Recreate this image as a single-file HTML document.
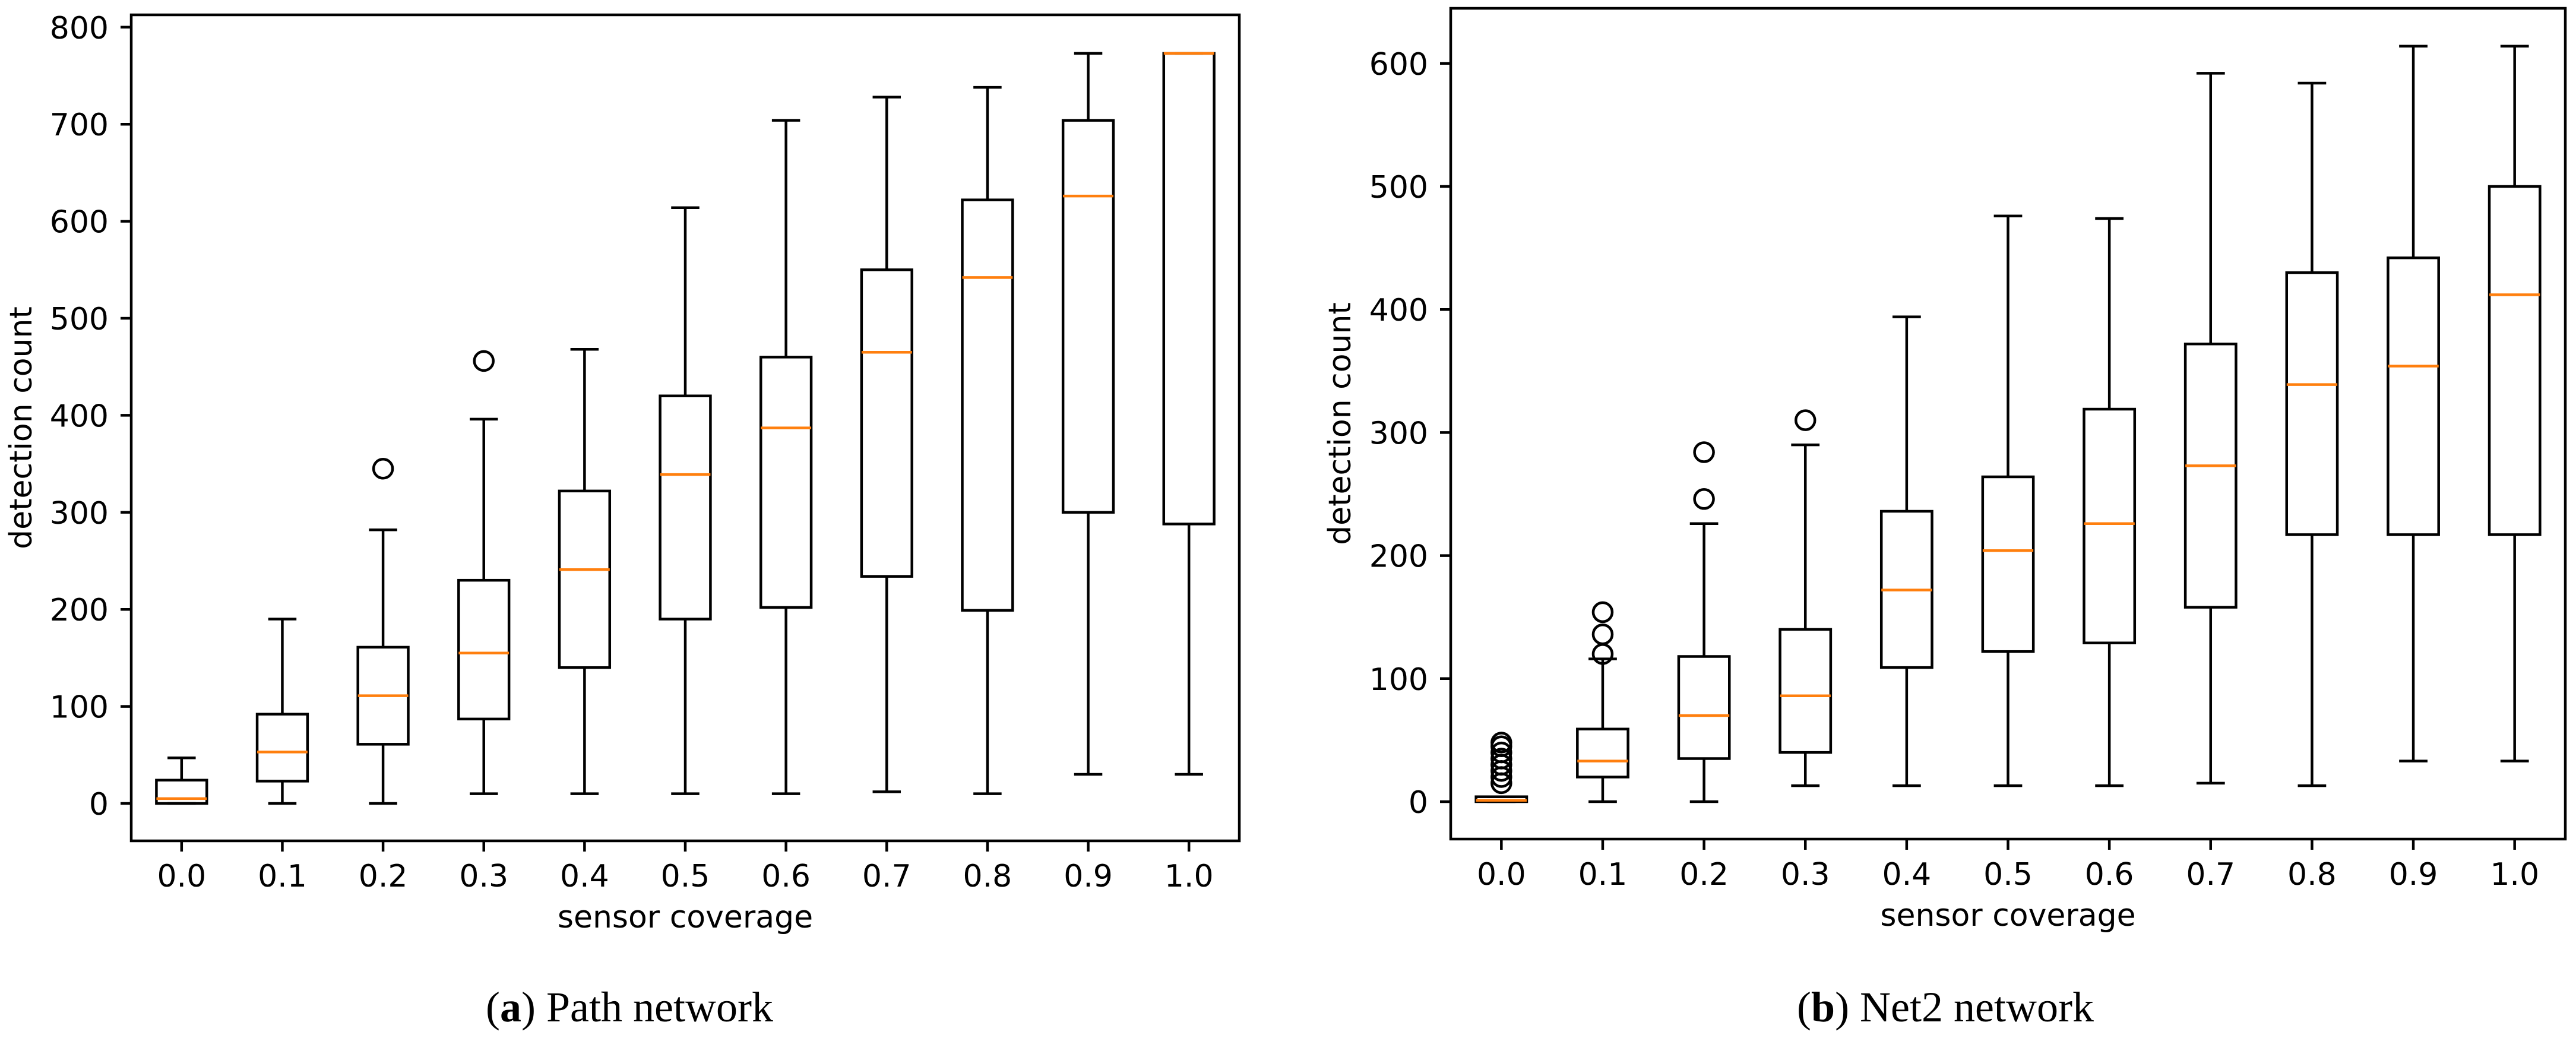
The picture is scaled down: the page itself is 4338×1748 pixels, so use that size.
<!DOCTYPE html>
<html><head><meta charset="utf-8"><style>
html,body{margin:0;padding:0;background:#fff;}
svg{display:block;}
</style></head><body>
<svg id="fig" width="4338" height="1748" viewBox="0 0 4338 1748" xmlns="http://www.w3.org/2000/svg">
<rect width="4338" height="1748" fill="#fff"/>
<g id="pa"></g>
<g id="pb"></g>
<text x="1060" y="1720" text-anchor="middle" font-family="Liberation Serif, serif" font-size="72">(<tspan font-weight="bold">a</tspan>) Path network</text>
<text x="3276" y="1720" text-anchor="middle" font-family="Liberation Serif, serif" font-size="72">(<tspan font-weight="bold">b</tspan>) Net2 network</text>
</svg>
<script>
const categories = ["0.0","0.1","0.2","0.3","0.4","0.5","0.6","0.7","0.8","0.9","1.0"];
// Path network: [whiskerLow, q1, median, q3, whiskerHigh]
const pathLow  = [0,0,0,10,10,10,10,12,10,30,30];
const pathQ1   = [0,23,61,87,140,190,202,234,199,300,288];
const pathMed  = [5,53,111,155,241,339,387,465,542,626,773];
const pathQ3   = [24,92,161,230,322,420,460,550,622,704,773];
const pathHigh = [47,190,282,396,468,614,704,728,738,773,773];
const pathOutliers = [[],[],[345],[456],[],[],[],[],[],[],[]];
const pathTicks = [0,100,200,300,400,500,600,700,800];
// Net2 network
const netLow  = [0,0,0,13,13,13,13,15,13,33,33];
const netQ1   = [0,20,35,40,109,122,129,158,217,217,217];
const netMed  = [1,33,70,86,172,204,226,273,339,354,412];
const netQ3   = [4,59,118,140,236,264,319,372,430,442,500];
const netHigh = [4,116,226,290,394,476,474,592,584,614,614];
const netOutliers = [[15,20,25,30,35,40,45,48],[120,136,154],[246,284],[310],[],[],[],[],[],[],[]];
const netTicks = [0,100,200,300,400,500,600];

const NS="http://www.w3.org/2000/svg";
function mk(parent,tag,attrs){const e=document.createElementNS(NS,tag);for(const k in attrs)e.setAttribute(k,attrs[k]);parent.appendChild(e);return e;}
const FONT="DejaVu Sans, Liberation Sans, sans-serif";

function drawChart(g,cfg,low,q1,med,q3,high,outl,ticks){
  const L=cfg.L,R=cfg.R,T=cfg.T,B=cfg.B;
  const step=(R-L)/11;
  const xs=i=>L+step*(i+0.5);
  const ys=v=>cfg.y0-v*cfg.k;
  // y ticks
  ticks.forEach(t=>{
    const tl=mk(g,'line',{x1:L-18,x2:L,y1:ys(t),y2:ys(t),stroke:'#000','stroke-width':4.5});
    
    
    const tx=mk(g,'text',{x:L-38,y:ys(t)+19,'text-anchor':'end','font-family':FONT,'font-size':52});
    tx.textContent=t;
    
    
  });
  categories.forEach((c,i)=>{
    const x=xs(i);
    const tl=mk(g,'line',{x1:x,x2:x,y1:B,y2:B+18,stroke:'#000','stroke-width':4.5});
    
    
    const tx=mk(g,'text',{x:x,y:B+77,'text-anchor':'middle','font-family':FONT,'font-size':52});
    tx.textContent=c;
    
    
    const bw=step*0.5, cw=step*0.28;
    const grp=mk(g,'g',{});
    
    
    mk(grp,'line',{x1:x,x2:x,y1:ys(low[i]),y2:ys(q1[i]),stroke:'#000','stroke-width':4.5});
    mk(grp,'line',{x1:x,x2:x,y1:ys(q3[i]),y2:ys(high[i]),stroke:'#000','stroke-width':4.5});
    mk(grp,'line',{x1:x-cw/2,x2:x+cw/2,y1:ys(low[i]),y2:ys(low[i]),stroke:'#000','stroke-width':4.5});
    mk(grp,'line',{x1:x-cw/2,x2:x+cw/2,y1:ys(high[i]),y2:ys(high[i]),stroke:'#000','stroke-width':4.5});
    mk(grp,'rect',{x:x-bw/2,y:ys(q3[i]),width:bw,height:Math.max(ys(q1[i])-ys(q3[i]),0.1),fill:'none',stroke:'#000','stroke-width':4.5});
    const m=mk(grp,'line',{x1:x-bw/2,x2:x+bw/2,y1:ys(med[i]),y2:ys(med[i]),stroke:'#ff7f0e','stroke-width':4.5});
    
    
    outl[i].forEach(v=>{
      const o=mk(grp,'circle',{cx:x,cy:ys(v),r:16,fill:'none',stroke:'#000','stroke-width':4.5});
      
      
    });
  });
  const fr=mk(g,'rect',{x:L,y:T,width:R-L,height:B-T,fill:'none',stroke:'#000','stroke-width':4.5});
  
  
  const xl=mk(g,'text',{x:(L+R)/2,y:B+146,'text-anchor':'middle','font-family':FONT,'font-size':52});
  xl.textContent='sensor coverage';
  
  
  const yc=(T+B)/2;
  const yl=mk(g,'text',{x:cfg.ylx,y:yc,'text-anchor':'middle','font-family':FONT,'font-size':52,transform:'rotate(-90 '+cfg.ylx+' '+yc+')'});
  yl.textContent='detection count';
  
  
}
drawChart(document.getElementById('pa'),{L:221,R:2087,T:25,B:1416,y0:1353,k:1.634,ylx:53},pathLow,pathQ1,pathMed,pathQ3,pathHigh,pathOutliers,pathTicks);
drawChart(document.getElementById('pb'),{L:2443,R:4320,T:14,B:1413,y0:1350,k:2.072,ylx:2274},netLow,netQ1,netMed,netQ3,netHigh,netOutliers,netTicks);
</script>
</body></html>
